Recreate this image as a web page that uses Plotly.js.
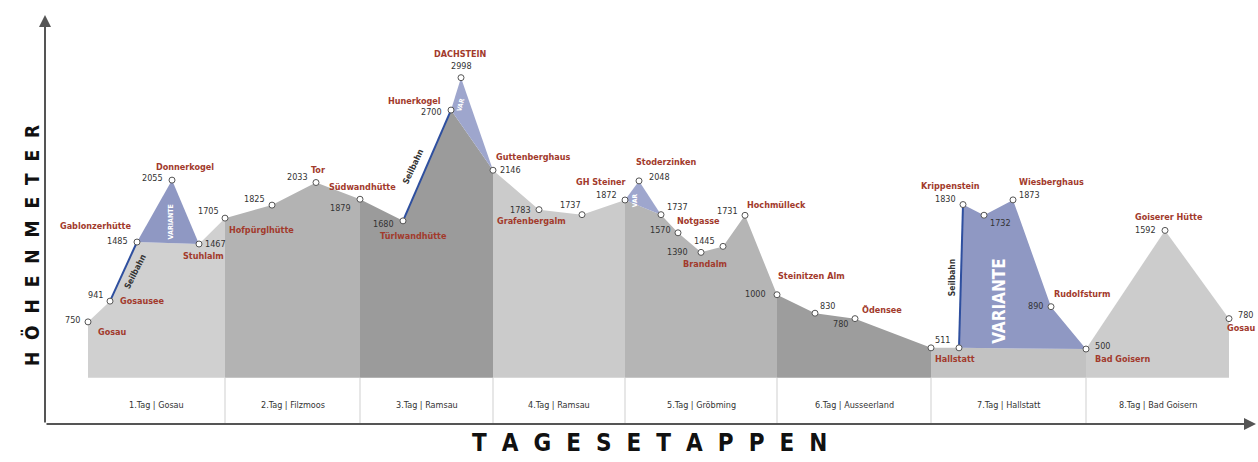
<!DOCTYPE html>
<html><head><meta charset="utf-8">
<script src="https://cdn.plot.ly/plotly-3.0.1.min.js"></script>
<style>html,body{margin:0;padding:0;background:#fff}#chart{width:1258px;height:462px}</style>
</head><body><div id="chart"></div>
<script>
// ---------- DATA ----------
// main route (grey profile): station names, elevation [m], position along route
const stationNames = ['Gosau','Gosausee','Gablonzerhütte','Stuhlalm','Hofpürglhütte','','Tor','Südwandhütte',
  'Türlwandhütte','Hunerkogel','Guttenberghaus','Grafenbergalm','','GH Steiner','','Notgasse','Brandalm','',
  'Hochmülleck','Steinitzen Alm','','Ödensee','Hallstatt','','Bad Goisern','Goiserer Hütte','Gosau'];
const stationElev = [750,941,1485,1467,1705,1825,2033,1879,1680,2700,2146,1783,1737,1872,1737,1570,1390,1445,
  1731,1000,830,780,511,511,500,1592,780];
const stationPos = [43,65,92,154,180,227,271,315,358,406,448,494,537,580,616,633,656,678,700,732,770,810,886,914,
  1041,1120,1184];
// first station index of each day (last entry = end of route)
const dayStart = [0,4,7,10,13,19,22,24,26];
const dayLabels = ['1.Tag | Gosau','2.Tag | Filzmoos','3.Tag | Ramsau','4.Tag | Ramsau','5.Tag | Gröbming',
  '6.Tag | Ausseerland','7.Tag | Hallstatt','8.Tag | Bad Goisern'];
// variant points (blue)
const variantNames = ['Donnerkogel','DACHSTEIN','Stoderzinken','Krippenstein','','Wiesberghaus','Rudolfsturm'];
const variantElev = [2055,2998,2048,1830,1732,1873,890];
const variantPos = [127,416,594,918,939,968,1006];
// variant routes: [main station from, variant point indices, main station to]
const variantRoutes = [[2,[0],3],[9,[1],10],[13,[2],14],[23,[3,4,5,6],24]];
const variantTexts = ['VARIANTE','VAR','VAR','VARIANTE'];
// ropeways: endpoints ('m' = main station, 'v' = variant point)
const ropeways = [[['m',1],['m',2]],[['m',8],['m',9]],[['m',23],['v',3]]];
const ropewayText = 'Seilbahn';
const yTitleLetters = ['H','Ö','H','E','N','M','E','T','E','R'];
const xTitleLetters = ['T','A','G','E','S','E','T','A','P','P','E','N'];

// ---------- STYLE / PLACEMENT ----------
const BASE = 235;
const dayColors = ['#d0d0d0','#b3b3b3','#9b9b9b','#cbcbcb','#b5b5b5','#9d9d9d','#c2c2c2','#cccccc'];
const variantColors = ['#8f98c3','#9ea6cd','#9ea6cd','#8f98c3'];
const ropeColor = '#2e4f9f';
const FONT = "'Liberation Sans Narrow','DejaVu Sans Condensed','Arial Narrow',sans-serif";
const nameColor = '#a23a2c', valColor = '#333333';
const LAB_SIZE = 9;
// [xanchor, dx, dy] relative to marker in px (dy positive = down)
const nameLab = [['left',8,10],['left',8,0],['right',-4,-16],['center',4,12],['left',2,12],null,['center',2,-13],
  ['center',2,-12],['center',10,15],['right',-8,-9],['left',1,-13],['center',-8,11],null,['center',-25,-18],null,
  ['left',-3,-12],['center',4,12],null,['left',0,-10],['left',-1,-19],null,['left',5,-9],['left',2,11],null,
  ['left',7,10],['center',4,-13],['right',28,9]];
const valLab = [['right',-6,-2],['right',-5,-6],['right',-7,-1],['left',4,0],['right',-4,-7],['right',-5,-6],
  ['right',-6,-6],['right',-7,9],['right',-7,3],['right',-7,2],['left',5,0],['right',-6,0],['center',-12,-10],
  ['right',-6,-5],['left',4,-8],['right',-5,-3],['right',-11,0],['right',-6,-5],['right',-5,-4],['right',-9,-1],
  ['left',3,-7],['right',-5,5],['left',2,-8],null,['left',7,-3],['right',-7,0],['left',7,-4]];
const vNameLab = [['center',13,-13],['center',-1,-24],['center',27,-19],['center',-13,-19],null,['left',4,-18],['left',1,-13]];
const vValLab = [['right',-7,-2],['center',0,-12],['left',8,-4],['right',-5,-6],['left',4,8],['left',4,-5],['right',-6,-1]];
// VARIANTE text: [dx,dy,size,angle] relative to polygon centroid
const variantTextStyle = [[2,0,7,-90],[-7,-15,6.5,-75],[-7,2,6.5,-90],[-11,30,17,-90]];
// Seilbahn text: [dx,dy,angle] relative to segment midpoint
const ropeTextStyle = [[11,0,-63],[-14,2,-65],[-9,2,-90]];

// ---------- BUILD ----------
const traces = [];
for (let i = 0; i < dayLabels.length; i++) {
  const s = dayStart[i], e = dayStart[i+1];
  const xs = stationPos.slice(s, e+1), ys = stationElev.slice(s, e+1);
  traces.push({type:'scatter', mode:'lines', x:[...xs, xs[xs.length-1], xs[0]], y:[...ys, BASE, BASE],
    fill:'toself', fillcolor:dayColors[i], line:{width:0, color:dayColors[i]}, hoverinfo:'skip'});
}
const pt = (r) => r[0]==='m' ? [stationPos[r[1]], stationElev[r[1]]] : [variantPos[r[1]], variantElev[r[1]]];
const annotations = [];
variantRoutes.forEach((vr, i) => {
  const xs = [stationPos[vr[0]], ...vr[1].map(k=>variantPos[k]), stationPos[vr[2]]];
  const ys = [stationElev[vr[0]], ...vr[1].map(k=>variantElev[k]), stationElev[vr[2]]];
  traces.push({type:'scatter', mode:'lines', x:xs, y:ys, fill:'toself', fillcolor:variantColors[i],
    line:{width:0, color:variantColors[i]}, hoverinfo:'skip'});
  const cx = xs.reduce((a,b)=>a+b,0)/xs.length, cy = ys.reduce((a,b)=>a+b,0)/ys.length;
  const st = variantTextStyle[i];
  annotations.push({x:cx, y:cy, xref:'x', yref:'y', text:variantTexts[i], showarrow:false, textangle:st[3],
    xanchor:'center', yanchor:'middle', xshift:st[0], yshift:-st[1],
    font:{family:FONT, size:st[2], color:'#ffffff', weight:700}});
});
ropeways.forEach((r, i) => {
  const a = pt(r[0]), b = pt(r[1]);
  traces.push({type:'scatter', mode:'lines', x:[a[0],b[0]], y:[a[1],b[1]], line:{color:ropeColor, width:2},
    hoverinfo:'skip'});
  const st = ropeTextStyle[i];
  annotations.push({x:(a[0]+b[0])/2, y:(a[1]+b[1])/2, xref:'x', yref:'y', text:ropewayText, showarrow:false,
    textangle:st[2], xanchor:'center', yanchor:'middle', xshift:st[0], yshift:-st[1],
    font:{family:FONT, size:8.5, color:'#333333', weight:700}});
});
traces.push({type:'scatter', mode:'markers', x:[...stationPos, ...variantPos], y:[...stationElev, ...variantElev],
  marker:{size:6, color:'#ffffff', line:{color:'#555555', width:1}}, cliponaxis:false, hoverinfo:'skip'});

function addLab(x, y, text, lab, color, bold) {
  if (!lab || !text) return;
  annotations.push({x:x, y:y, xref:'x', yref:'y', text:text, showarrow:false, xanchor:lab[0], yanchor:'middle',
    xshift:lab[1], yshift:-lab[2], font:{family:FONT, size:LAB_SIZE, color:color, weight:bold?700:400}});
}
stationNames.forEach((n, i) => {
  addLab(stationPos[i], stationElev[i], n, nameLab[i], nameColor, true);
  addLab(stationPos[i], stationElev[i], String(stationElev[i]), valLab[i], valColor, false);
});
variantNames.forEach((n, i) => {
  addLab(variantPos[i], variantElev[i], n, vNameLab[i], nameColor, true);
  addLab(variantPos[i], variantElev[i], String(variantElev[i]), vValLab[i], valColor, false);
});
// day table
const shapes = [];
for (let i = 1; i < dayLabels.length; i++) {
  shapes.push({type:'line', xref:'x', yref:'y', x0:stationPos[dayStart[i]], x1:stationPos[dayStart[i]],
    y0:-190, y1:BASE, line:{color:'#cfcfcf', width:1}});
}
dayLabels.forEach((d, i) => {
  annotations.push({x:(stationPos[dayStart[i]]+stationPos[dayStart[i+1]])/2, y:0.046, xref:'x', yref:'paper',
    text:d, showarrow:false, xanchor:'center', yanchor:'middle',
    font:{family:FONT, size:9, color:'#333333'}});
});
// axes arrows
annotations.push({xref:'paper', yref:'paper', x:0, y:1, ax:0, ay:409, axref:'pixel', ayref:'pixel', text:'',
  showarrow:true, arrowhead:2, arrowsize:1.2, arrowwidth:2, arrowcolor:'#555555', standoff:0, startstandoff:0});
annotations.push({xref:'paper', yref:'paper', x:1, y:0, ax:-1211, ay:0, axref:'pixel', ayref:'pixel', text:'',
  showarrow:true, arrowhead:2, arrowsize:1.2, arrowwidth:2, arrowcolor:'#555555', standoff:0, startstandoff:0});
// axis titles (letter-spaced)
const yTitle = yTitleLetters.join('\u00a0\u00a0');
const xTitle = xTitleLetters.join('\u00a0\u00a0');
annotations.push({xref:'paper', yref:'paper', x:0, y:0.435, xshift:-14, text:yTitle, textangle:-90, showarrow:false,
  xanchor:'center', yanchor:'middle', font:{family:FONT, size:19, color:'#111111', weight:700}});
annotations.push({xref:'paper', yref:'paper', x:0.499, y:-0.046, text:xTitle, showarrow:false,
  xanchor:'center', yanchor:'middle', font:{family:FONT, size:24, color:'#111111', weight:700}});

const layout = {
  width:1258, height:462, margin:{l:45, r:2, t:15, b:38}, showlegend:false,
  paper_bgcolor:'#ffffff', plot_bgcolor:'#ffffff',
  xaxis:{range:[0,1211], showgrid:false, zeroline:false, showticklabels:false, ticks:'', showline:false, fixedrange:true},
  yaxis:{range:[-190,3575], showgrid:false, zeroline:false, showticklabels:false, ticks:'', showline:false, fixedrange:true},
  annotations:annotations, shapes:shapes
};
Plotly.newPlot('chart', traces, layout, {displayModeBar:false, staticPlot:true});
</script></body></html>
